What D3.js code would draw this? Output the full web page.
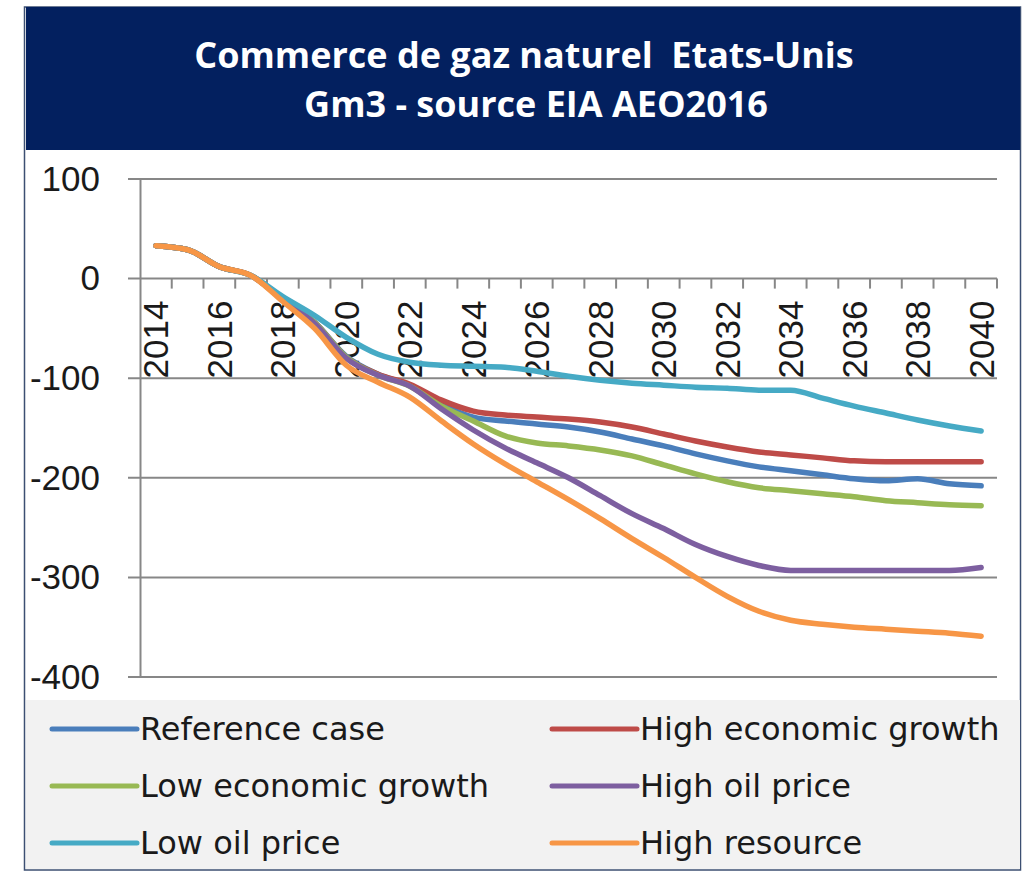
<!DOCTYPE html>
<html lang='fr'>
<head>
<meta charset='UTF-8'>
<title>Commerce de gaz naturel Etats-Unis</title>
<script src='https://d3js.org/d3.v7.min.js'></script>
<style>
  body { margin: 0; background: #fff; }
  svg { display: block; }
</style>
</head>
<body>
<div id='chart'></div>
<script>
  // data (Gm3)
  const years = d3.range(2014, 2041);
  const yTicks = [100, 0, -100, -200, -300, -400];

  const referenceCase = [33, 29, 12, 3, -21, -44, -78, -96, -107, -126, -139, -143, -146, -149, -154, -161, -168, -176, -183, -189, -193, -197, -201, -203, -201, -206, -208];
  const highEconomicGrowth = [33, 29, 12, 3, -21, -44, -79, -96, -106, -122, -133, -137, -139, -141, -144, -149, -156, -163, -169, -174, -177, -180, -183, -184, -184, -184, -184];
  const lowEconomicGrowth = [33, 29, 12, 3, -21, -44, -79, -97, -108, -128, -143, -158, -165, -168, -172, -178, -187, -196, -204, -210, -213, -216, -219, -223, -225, -227, -228];
  const highOilPrice = [33, 29, 12, 3, -21, -45, -80, -97, -108, -131, -152, -170, -185, -200, -218, -236, -251, -267, -279, -288, -293, -293, -293, -293, -293, -293, -290];
  const lowOilPrice = [33, 29, 12, 3, -18, -37, -59, -76, -84, -87, -88, -89, -93, -98, -102, -105, -107, -109, -110, -112, -112, -120, -128, -135, -142, -148, -153];
  const highResource = [33, 29, 12, 3, -23, -50, -87, -104, -119, -143, -166, -186, -204, -222, -241, -261, -280, -300, -319, -334, -343, -347, -350, -352, -354, -356, -359];

  const seriesNames = ['Reference case', 'High economic growth', 'Low economic growth', 'High oil price', 'Low oil price', 'High resource'];
  const seriesValues = [referenceCase, highEconomicGrowth, lowEconomicGrowth, highOilPrice, lowOilPrice, highResource];
  const colours = ['#4a7ebb', '#be4b48', '#98b954', '#7d5fa0', '#46aac5', '#f79646'];

  const W = 1023, H = 872;
  const plot = { left: 140, right: 997, top: 179, bottom: 677 };

  const svg = d3.select('#chart').append('svg').attr('width', W).attr('height', H);

  // frame + title banner
  svg.append('rect').attr('x', 24.5).attr('y', 7).attr('width', 996).attr('height', 863)
    .attr('fill', '#fff').attr('stroke', '#3c4f72').attr('stroke-width', 1.5);
  svg.append('rect').attr('x', 26).attr('y', 7).attr('width', 994).attr('height', 143).attr('fill', '#03205f');

  const title = svg.append('text')
    .attr('text-anchor', 'middle')
    .attr('fill', '#fff')
    .style('font-family', "'Open Sans', sans-serif")
    .style('font-weight', 700)
    .style('font-size', '36px')
    .style('white-space', 'pre');
  title.append('tspan').attr('x', 524).attr('y', 68).text('Commerce de gaz naturel  Etats-Unis');
  title.append('tspan').attr('x', 536).attr('y', 117).text('Gm3 - source EIA AEO2016');

  // scales
  const x = d3.scaleBand().domain(years).range([plot.left, plot.right]);
  const y = d3.scaleLinear().domain([-400, 100]).range([plot.bottom, plot.top]);
  const cx = d => x(d) + x.bandwidth() / 2;

  // gridlines (with outer ticks on the left)
  svg.append('g').selectAll('line').data(yTicks).join('line')
    .attr('x1', plot.left - 12).attr('x2', plot.right)
    .attr('y1', d => y(d)).attr('y2', d => y(d))
    .attr('stroke', '#878787').attr('stroke-width', 2);

  // y axis (plain hyphen for negatives, like the original)
  const yAxis = svg.append('g').attr('transform', `translate(${plot.left},0)`)
    .call(d3.axisLeft(y).tickValues(yTicks).tickSize(0).tickPadding(40).tickFormat(d => String(d)));
  yAxis.select('.domain').attr('stroke', '#878787').attr('stroke-width', 2);
  yAxis.selectAll('text')
    .style('font-family', "'Liberation Sans', Arial, sans-serif")
    .style('font-size', '35px')
    .attr('fill', '#1a1a1a');

  // x axis on the zero line, labels every two years
  const xAxis = svg.append('g').attr('transform', `translate(0,${y(0)})`)
    .call(d3.axisBottom(x).tickSize(0).tickFormat(d => (d - 2014) % 2 === 0 ? d : ''));
  xAxis.select('.domain').remove();
  xAxis.selectAll('text')
    .attr('transform', 'rotate(-90)')
    .attr('text-anchor', 'end')
    .attr('x', -22).attr('y', 0).attr('dy', '0.36em')
    .style('font-family', "'Liberation Sans', Arial, sans-serif")
    .style('font-size', '35px')
    .attr('fill', '#1a1a1a');

  // tick marks at category boundaries
  svg.append('g').selectAll('line').data(years.slice(1).concat([null])).join('line')
    .attr('x1', d => d === null ? plot.right : x(d))
    .attr('x2', d => d === null ? plot.right : x(d))
    .attr('y1', y(0)).attr('y2', y(0) + 10)
    .attr('stroke', '#878787').attr('stroke-width', 2);

  // lines
  const line = d3.line()
    .x((d, i) => cx(years[i]))
    .y(d => y(d))
    .curve(d3.curveMonotoneX);

  svg.append('g').selectAll('path').data(seriesValues).join('path')
    .attr('d', d => line(d))
    .attr('fill', 'none')
    .attr('stroke', (d, i) => colours[i])
    .attr('stroke-width', 5.5)
    .attr('stroke-linecap', 'round')
    .attr('stroke-linejoin', 'round');

  // legend
  svg.append('rect').attr('x', 26).attr('y', 700).attr('width', 994).attr('height', 169).attr('fill', '#f2f2f2');
  const legend = svg.append('g').selectAll('g').data(seriesNames).join('g')
    .attr('transform', (d, i) => `translate(${i % 2 === 0 ? 52 : 552},${729 + Math.floor(i / 2) * 57})`);
  legend.append('line')
    .attr('x1', 0).attr('x2', 85)
    .attr('stroke', (d, i) => colours[i])
    .attr('stroke-width', 5)
    .attr('stroke-linecap', 'round');
  legend.append('text')
    .attr('x', 88).attr('y', 11)
    .style('font-family', "'DejaVu Sans', sans-serif")
    .style('font-size', '32px')
    .attr('fill', '#1a1a1a')
    .text(d => d);
</script>
</body>
</html>
